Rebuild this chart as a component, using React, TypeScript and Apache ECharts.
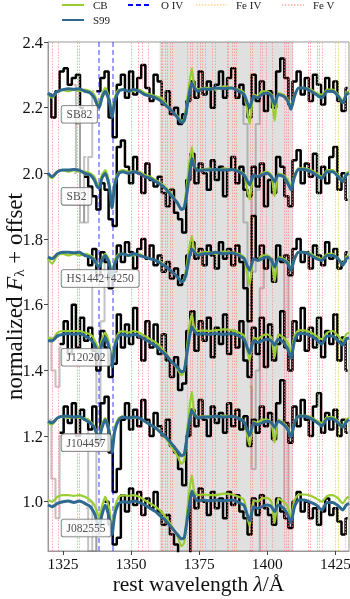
import React, { useEffect, useRef } from 'react';
import * as echarts from 'echarts';

// ---------- DATA ----------
const NAMES = ['SB82', 'SB2', 'HS1442+4250', 'J120202', 'J104457', 'J082555'];
const OFFSETS = [1.25, 1.0, 0.75, 0.5, 0.25, 0.0];
const LABEL_Y = [2.18, 1.93, 1.68, 1.44, 1.18, 0.92];
const LABEL_X = 1324.3;

const X_TICKS = [1325, 1350, 1375, 1400, 1425];
const Y_TICKS = [1.0, 1.2, 1.4, 1.6, 1.8, 2.0, 2.2, 2.4];

const GRAY_BAND = [1360.5, 1409.5];
const O_IV = [1338.1, 1343.1];
const FE_IV = [1425.0, 1426.2, 1428.7];
const FE_V = [1321.1, 1323.1, 1330.3, 1331.0, 1350.0, 1352.5, 1354.2, 1356.4, 1360.9, 1361.5, 1362.5, 1363.3,
  1364.4, 1365.0, 1370.6, 1371.7, 1372.4, 1374.2, 1375.4, 1376.2, 1377.2, 1379.8, 1380.9, 1385.2, 1385.8,
  1387.0, 1388.0, 1388.5, 1393.8, 1394.4, 1397.4, 1398.1, 1399.5, 1401.7, 1406.4, 1406.9, 1407.8, 1409.1,
  1415.0, 1415.8, 1418.3, 1419.1, 1420.1];

// model wavelength grid
const MW = [1319.5, 1321, 1323, 1325, 1327, 1329, 1331, 1333, 1335, 1336.5, 1337.5, 1338.3, 1339.3, 1340.5,
  1342, 1343, 1344, 1345.5, 1347, 1349, 1351, 1353, 1355, 1357, 1359, 1361, 1363, 1365, 1367, 1368.5, 1369.5,
  1370.5, 1371.5, 1372.3, 1373.2, 1374.5, 1376.5, 1378.5, 1381, 1384, 1387, 1389.5, 1391.5, 1393.5, 1395,
  1396.5, 1398, 1400, 1401.5, 1402.7, 1404, 1406, 1407.5, 1408.7, 1410, 1411.5, 1413.5, 1416, 1418, 1420,
  1422, 1424, 1426, 1427.7, 1429, 1430];

// S99 models (normalized flux)
const S99_SB82 = [0.995, 0.985, 1.0, 1.005, 1.008, 1.006, 1.008, 1.0, 0.995, 0.98, 0.96, 0.95, 0.98, 1.0, 0.97, 0.92, 0.97, 1.0, 1.005, 1.0, 1.005, 1.0, 0.99, 0.985, 0.98, 0.97, 0.955, 0.94, 0.92, 0.905, 0.91, 0.95, 1.0, 1.025, 1.01, 1.0, 1.008, 1.005, 1.01, 1.008, 1.01, 1.0, 0.99, 0.95, 0.985, 0.98, 0.99, 0.995, 0.985, 0.96, 0.99, 0.985, 0.97, 0.945, 0.985, 1.01, 1.01, 1.0, 0.99, 0.98, 1.0, 1.0, 0.985, 0.965, 0.99, 0.995];
const S99_SB2 = [1.0, 0.99, 1.005, 1.01, 1.01, 1.012, 1.01, 1.0, 0.995, 0.98, 0.96, 0.955, 0.985, 1.0, 0.96, 0.895, 0.965, 1.0, 1.005, 1.0, 1.005, 1.0, 0.99, 0.985, 0.975, 0.965, 0.95, 0.93, 0.91, 0.89, 0.895, 0.94, 1.0, 1.045, 1.02, 1.008, 1.01, 1.01, 1.012, 1.01, 1.012, 1.005, 0.995, 0.965, 0.995, 0.99, 0.995, 1.0, 0.99, 0.975, 0.995, 0.99, 0.97, 0.95, 0.99, 1.012, 1.012, 1.005, 0.995, 0.985, 1.005, 1.005, 0.99, 0.975, 0.995, 1.0];
const S99_HS1442 = [0.995, 0.99, 1.005, 1.01, 1.01, 1.008, 1.01, 1.0, 0.995, 0.985, 0.97, 0.965, 0.985, 1.0, 0.975, 0.93, 0.975, 1.0, 1.005, 1.0, 1.005, 1.0, 0.995, 0.99, 0.985, 0.975, 0.965, 0.95, 0.935, 0.92, 0.925, 0.955, 1.0, 1.02, 1.01, 1.0, 1.005, 1.005, 1.01, 1.005, 1.008, 1.0, 0.99, 0.955, 0.99, 0.985, 0.99, 0.995, 0.985, 0.965, 0.99, 0.985, 0.975, 0.955, 0.99, 1.01, 1.01, 1.0, 0.99, 0.985, 1.0, 1.0, 0.99, 0.97, 0.99, 0.995];
const S99_J120202 = [0.99, 0.99, 1.005, 1.01, 1.012, 1.01, 1.012, 1.005, 0.995, 0.98, 0.96, 0.95, 0.98, 1.0, 0.965, 0.91, 0.97, 1.005, 1.01, 1.005, 1.01, 1.005, 0.995, 0.985, 0.975, 0.96, 0.945, 0.925, 0.91, 0.895, 0.9, 0.95, 1.005, 1.033, 1.02, 1.01, 1.012, 1.01, 1.012, 1.01, 1.012, 1.005, 0.995, 0.952, 0.99, 0.985, 0.99, 0.995, 0.99, 0.977, 0.995, 0.985, 0.965, 0.937, 0.99, 1.012, 1.012, 1.005, 0.995, 0.98, 1.005, 1.005, 0.99, 0.977, 0.995, 1.0];
const S99_J104457 = [0.995, 0.99, 1.005, 1.01, 1.01, 1.008, 1.01, 1.0, 0.99, 0.975, 0.955, 0.945, 0.975, 1.0, 0.96, 0.9, 0.965, 1.0, 1.008, 1.005, 1.008, 1.005, 0.995, 0.985, 0.975, 0.96, 0.945, 0.925, 0.905, 0.89, 0.895, 0.945, 1.0, 1.028, 1.015, 1.005, 1.008, 1.008, 1.01, 1.008, 1.01, 1.003, 0.993, 0.952, 0.99, 0.985, 0.99, 0.995, 0.99, 0.977, 0.995, 0.985, 0.97, 0.947, 0.99, 1.01, 1.01, 1.003, 0.993, 0.98, 1.003, 1.003, 0.99, 0.977, 0.993, 1.0];
const S99_J082555 = [0.99, 0.985, 0.995, 1.0, 1.002, 0.998, 1.002, 0.995, 0.985, 0.965, 0.94, 0.922, 0.96, 0.99, 0.95, 0.9, 0.96, 0.995, 1.0, 0.998, 1.002, 0.998, 0.99, 0.98, 0.97, 0.955, 0.94, 0.92, 0.9, 0.887, 0.89, 0.94, 0.995, 1.033, 1.015, 1.002, 1.005, 1.003, 1.005, 1.003, 1.005, 0.998, 0.988, 0.942, 0.985, 0.98, 0.985, 0.99, 0.985, 0.97, 0.99, 0.98, 0.96, 0.937, 0.985, 1.005, 1.005, 0.998, 0.99, 0.975, 0.998, 0.998, 0.988, 0.975, 0.99, 0.995];

// CB models (normalized flux)
const CB_SB82 = [0.99, 0.98, 1.0, 1.003, 1.0, 1.005, 1.0, 1.005, 1.0, 0.99, 0.97, 0.96, 0.99, 1.01, 0.98, 0.93, 0.98, 1.005, 1.005, 1.0, 1.0, 1.005, 0.995, 0.99, 0.985, 0.98, 0.96, 0.94, 0.925, 0.91, 0.915, 0.97, 1.03, 1.07, 1.015, 1.005, 1.01, 1.01, 1.005, 1.015, 1.01, 1.005, 0.995, 0.9, 0.99, 0.985, 1.0, 1.0, 0.99, 0.91, 0.995, 0.99, 0.975, 0.955, 0.99, 1.01, 1.01, 1.005, 0.995, 0.99, 1.005, 1.005, 0.99, 0.97, 0.995, 1.0];
const CB_SB2 = [0.995, 0.985, 1.005, 1.01, 1.005, 1.01, 1.005, 1.005, 1.0, 0.99, 0.97, 0.965, 0.995, 1.01, 0.97, 0.905, 0.975, 1.005, 1.01, 1.005, 1.005, 1.005, 0.995, 0.99, 0.98, 0.97, 0.955, 0.935, 0.91, 0.89, 0.9, 0.97, 1.04, 1.08, 1.025, 1.01, 1.012, 1.015, 1.01, 1.015, 1.012, 1.008, 0.998, 0.92, 0.995, 0.99, 1.0, 1.005, 0.995, 0.93, 1.0, 0.995, 0.98, 0.96, 0.995, 1.015, 1.015, 1.01, 1.0, 0.99, 1.01, 1.01, 0.995, 0.98, 1.0, 1.005];
const CB_HS1442 = [0.99, 0.975, 1.0, 1.005, 1.0, 1.005, 1.0, 1.005, 1.0, 0.99, 0.975, 0.97, 0.99, 1.005, 0.985, 0.94, 0.985, 1.005, 1.005, 1.0, 1.0, 1.005, 0.995, 0.99, 0.985, 0.98, 0.965, 0.95, 0.935, 0.92, 0.93, 0.975, 1.03, 1.06, 1.015, 1.005, 1.01, 1.01, 1.005, 1.012, 1.01, 1.005, 0.995, 0.91, 0.99, 0.985, 1.0, 1.0, 0.99, 0.92, 0.995, 0.99, 0.98, 0.96, 0.99, 1.01, 1.01, 1.005, 0.995, 0.99, 1.005, 1.005, 0.99, 0.975, 0.995, 1.0];
const CB_J120202 = [1.0, 0.995, 1.015, 1.02, 1.02, 1.02, 1.02, 1.015, 1.01, 0.995, 0.975, 0.965, 0.995, 1.015, 0.98, 0.925, 0.985, 1.015, 1.02, 1.015, 1.02, 1.015, 1.005, 0.995, 0.985, 0.97, 0.95, 0.925, 0.905, 0.885, 0.895, 0.97, 1.04, 1.07, 1.03, 1.02, 1.022, 1.02, 1.022, 1.025, 1.022, 1.015, 1.005, 0.93, 1.0, 0.995, 1.005, 1.01, 1.0, 0.94, 1.01, 1.0, 0.985, 0.955, 1.005, 1.022, 1.022, 1.015, 1.005, 0.995, 1.015, 1.02, 1.005, 0.99, 1.01, 1.015];
const CB_J104457 = [0.99, 0.985, 1.005, 1.008, 1.005, 1.008, 1.005, 1.005, 0.995, 0.98, 0.96, 0.955, 0.985, 1.005, 0.97, 0.91, 0.975, 1.005, 1.01, 1.005, 1.005, 1.005, 0.995, 0.985, 0.975, 0.96, 0.94, 0.915, 0.89, 0.865, 0.875, 0.96, 1.04, 1.085, 1.02, 1.008, 1.01, 1.01, 1.008, 1.012, 1.01, 1.005, 0.995, 0.92, 0.995, 0.99, 1.0, 1.0, 0.99, 0.93, 1.0, 0.99, 0.975, 0.955, 0.995, 1.012, 1.012, 1.008, 0.998, 0.99, 1.008, 1.008, 0.995, 0.98, 1.0, 1.005];
const CB_J082555 = [1.005, 1.0, 1.015, 1.02, 1.02, 1.018, 1.02, 1.015, 1.005, 0.99, 0.97, 0.952, 0.985, 1.015, 0.98, 0.91, 0.98, 1.015, 1.02, 1.018, 1.02, 1.015, 1.005, 0.995, 0.985, 0.97, 0.95, 0.925, 0.895, 0.865, 0.875, 0.965, 1.04, 1.08, 1.03, 1.02, 1.022, 1.02, 1.02, 1.025, 1.022, 1.015, 1.005, 0.925, 1.005, 1.0, 1.01, 1.012, 1.0, 0.935, 1.01, 1.0, 0.985, 0.955, 1.005, 1.022, 1.022, 1.018, 1.01, 1.0, 1.018, 1.02, 1.01, 0.995, 1.01, 1.015];

// observed (binned) wavelength grid
const DW = [1320, 1321.5, 1323, 1324.5, 1326, 1327.5, 1329, 1330.5, 1332, 1333.5, 1335, 1336.5, 1338, 1339.5,
  1341, 1342.5, 1344, 1345.5, 1347, 1348.5, 1350, 1351.5, 1353, 1354.5, 1356, 1357.5, 1359, 1360.5, 1362,
  1363.5, 1365, 1366.5, 1368, 1369.5, 1371, 1372.5, 1374, 1375.5, 1377, 1378.5, 1380, 1381.5, 1383, 1384.5,
  1386, 1387.5, 1389, 1390.5, 1392, 1393.5, 1395, 1396.5, 1398, 1399.5, 1401, 1402.5, 1404, 1405.5, 1407,
  1408.5, 1410, 1411.5, 1413, 1414.5, 1416, 1417.5, 1419, 1420.5, 1422, 1423.5, 1425, 1426.5, 1428, 1429.5];

// observed normalized flux (null = no coverage / masked)
const OBS_SB82 = [0.99, 0.92, 1.0, 1.06, 1.07, 1.02, 1.04, 1.05, 0.95, null, null, null, 1.0, 1.04, 1.06, 0.92, 0.86, 1.02, 1.05, 0.98, 1.06, 0.99, 1.04, 1.08, 1.01, 0.97, 1.05, 1.03, 0.96, 1.0, 0.93, 0.95, 0.9, 0.93, 0.97, 1.03, 0.98, 1.06, 0.99, 1.03, 0.95, 1.02, 1.06, 0.98, 1.04, 1.07, 0.98, 1.02, 0.96, 0.92, 1.05, 0.97, 1.03, 0.94, 1.0, 0.95, 1.06, 1.1, 1.04, 0.96, 1.03, 1.06, 0.99, 1.04, 0.97, 1.05, 1.02, 0.96, 1.04, 1.0, 1.03, 0.97, 0.94, 1.01];
const OBS_SB2 = [null, null, null, null, null, null, null, null, null, 0.99, 0.96, 0.93, 0.89, 0.97, 0.95, 0.86, 0.84, 1.08, 1.1, 1.02, 0.97, 1.05, 1.0, 0.94, 1.03, 0.98, 0.96, 0.99, 0.94, 0.9, 0.95, 0.88, 0.86, 0.82, 0.98, 1.06, 0.97, 1.03, 1.0, 0.95, 1.04, 0.98, 1.02, 0.93, 1.01, 1.05, 0.97, 1.02, 0.95, 0.93, 1.02, 0.96, 1.03, 0.9, 0.98, 0.94, 1.05, 1.02, 0.93, 0.9, 1.04, 1.07, 0.97, 1.03, 0.99, 1.06, 0.94, 1.02, 0.97, 1.05, 1.08, 0.95, 1.0, 0.92];
const OBS_HS1442 = [null, null, null, null, null, null, null, null, null, 1.0, 0.97, 1.02, 0.94, 1.01, 0.98, 0.9, 0.95, 1.03, 0.98, 1.04, 1.01, 0.96, 1.02, 1.05, 0.99, 1.03, 0.97, 1.0, 0.95, 0.98, 0.93, 0.96, 0.91, 0.94, 1.0, 1.04, 0.99, 1.02, 0.97, 1.03, 1.0, 0.96, 1.04, 0.99, 1.02, 0.97, 1.03, 0.98, 0.9, 0.8, 1.12, 0.99, 1.03, 0.96, 0.99, 0.92, 1.03, 0.98, 1.0, 0.94, 1.02, 1.05, 0.98, 1.01, 0.96, 1.03, 1.0, 0.97, 1.04, 0.99, 1.02, 0.96, 0.98, 1.01];
const OBS_J120202 = [null, null, null, 0.98, 1.05, 0.95, 1.1, 0.97, 1.06, 0.99, 1.03, 0.96, 0.9, 1.02, 0.97, 0.88, 0.92, 1.07, 0.97, 1.04, 0.98, 1.09, 1.0, 0.93, 1.05, 0.97, 1.04, 0.95, 1.01, 0.93, 0.88, 0.94, 0.84, 0.86, 1.02, 1.08, 0.96, 1.05, 0.99, 1.06, 0.94, 1.03, 0.98, 1.07, 0.95, 1.02, 0.97, 1.05, 0.93, 0.88, 1.03, 0.95, 1.06, 0.91, 1.04, 0.93, 0.98, 1.08, 0.97, 0.9, 1.05, 0.99, 1.09, 0.96, 1.03, 0.97, 1.06, 0.94, 1.02, 0.98, 1.07, 0.93, 1.0, 0.9];
const OBS_J104457 = [null, null, null, 0.96, 1.04, 0.99, 1.05, 0.95, 1.03, 1.0, 0.97, 1.04, 0.93, 1.05, 1.07, 0.9, 0.78, 0.85, 1.0, 1.05, 0.97, 1.03, 0.98, 1.06, 1.0, 0.95, 1.02, 0.98, 0.95, 1.0, 0.92, 0.9, 0.85, 0.8, 0.95, 1.03, 0.98, 1.06, 1.0, 0.95, 1.04, 0.99, 1.02, 0.96, 1.05, 0.98, 1.03, 0.97, 1.01, 0.92, 1.0, 0.96, 1.04, 0.98, 1.02, 0.94, 1.05, 1.12, 0.99, 0.93, 1.04, 0.98, 1.06, 1.0, 0.95, 1.04, 1.08, 0.96, 1.02, 0.97, 1.03, 0.95, 1.0, 0.96];
const OBS_J082555 = [null, null, null, null, null, null, null, null, null, null, null, null, null, null, 1.0, 0.93, 0.87, 0.89, 1.02, 0.97, 1.04, 0.99, 1.03, 0.96, 1.01, 0.98, 1.03, 0.97, 0.93, 0.96, 0.9, 0.87, 0.84, 0.8, 0.75, 1.02, 0.98, 1.04, 1.0, 0.96, 1.03, 0.98, 1.01, 0.95, 1.03, 0.99, 1.02, 0.97, 0.95, 0.9, 1.01, 0.96, 1.02, 0.98, 0.96, 0.93, 1.01, 0.97, 0.95, 0.92, 1.0, 1.03, 0.97, 1.0, 0.95, 0.98, 0.93, 0.97, 1.01, 0.96, 0.98, 0.94, 0.9, 0.95];

// masked (grey) data segments: [wavelength, normalized flux]; null separates segments
const MASK_SB82 = [[1329, 1.02], [1330.5, 0.9], [1332, 0.7], [1333.5, 0.6], [1335, 0.8], [1336.5, 1.0], null, [1390.5, 1.0], [1392, 0.9], [1393.5, 0.72], [1395, 0.62], [1396.5, 0.9], [1398, 1.02]];
const MASK_SB2 = [[1329, 1.0], [1330.5, 1.18], [1332, 0.85], [1333.5, 1.05], null, [1390.5, 0.98], [1392, 0.85], [1393.5, 0.6], [1395, 0.7], [1396.5, 0.95], [1398, 1.0]];
const MASK_HS1442 = [[1335, 0.95], [1336.5, 0.7], [1338, 0.55], [1339.5, 0.8], [1341, 1.0], null, [1392, 0.95], [1393.5, 0.7], [1395, 0.5], [1396.5, 0.65], [1398, 0.9], [1399.5, 1.0], null, [1405.5, 1.0], [1407, 0.75], [1408.5, 0.95]];
const MASK_J120202 = [[1320, 1.0], [1321.5, 0.9], [1323, 0.85], [1324.5, 0.97], null, [1393.5, 0.85], [1395, 0.6], [1396.5, 0.75], [1398, 1.0]];
const MASK_J104457 = [[1320, 1.0], [1321.5, 0.82], [1323, 0.7], [1324.5, 0.95], null, [1333.5, 1.0], [1335, 0.75], [1336.5, 0.6], [1338, 0.9], null, [1405.5, 1.0], [1407, 0.7], [1408.5, 0.95]];
const MASK_J082555 = [[1333.5, 0.98], [1335, 0.85], [1336.5, 0.8], [1338, 0.9], [1339.5, 0.97], null, [1393.5, 0.85], [1395, 0.7], [1396.5, 0.8], [1398, 0.97]];

const S99 = [S99_SB82, S99_SB2, S99_HS1442, S99_J120202, S99_J104457, S99_J082555];
const CB = [CB_SB82, CB_SB2, CB_HS1442, CB_J120202, CB_J104457, CB_J082555];
const OBS = [OBS_SB82, OBS_SB2, OBS_HS1442, OBS_J120202, OBS_J104457, OBS_J082555];
const MASK = [MASK_SB82, MASK_SB2, MASK_HS1442, MASK_J120202, MASK_J104457, MASK_J082555];

// ---------- STYLE ----------
const FONT = '"Liberation Serif", "DejaVu Serif", serif';
const C_CB = '#9acd32';
const C_S99 = '#2e6a90';
const C_OIV = '#0000ff';
const C_FEIV = '#ffc04d';
const C_FEV = '#fa8072';

export default function App() {
  const ref = useRef<HTMLDivElement>(null);
  useEffect(() => {
    const chart = echarts.init(ref.current as HTMLDivElement, null, { renderer: 'svg' });
    const series: any[] = [];
    series.push({
      type: 'line', data: [], silent: true, z: 1,
      markArea: { silent: true, itemStyle: { color: 'rgba(0,0,0,0.12)' }, data: [[{ xAxis: GRAY_BAND[0] }, { xAxis: GRAY_BAND[1] }]] },
    });
    const vlines = (vals: number[], color: string, type: any, width: number) => ({
      type: 'line', data: [], silent: true, z: 2,
      markLine: { silent: true, symbol: ['none', 'none'], label: { show: false },
        lineStyle: { color, type, width }, emphasis: { disabled: true },
        data: vals.map((v) => ({ xAxis: v })) },
    });
    series.push(vlines(FE_V, 'rgba(250,128,114,0.65)', [1.5, 1.5], 1));
    series.push(vlines(FE_IV, 'rgba(255,192,77,0.75)', [1.5, 1.5], 1));
    series.push(vlines(O_IV, 'rgba(0,0,255,0.5)', [5, 3], 1.5));

    for (let i = 0; i < NAMES.length; i++) {
      const off = OFFSETS[i];
      series.push({
        type: 'line', step: 'middle', showSymbol: false, silent: true, z: 3,
        lineStyle: { color: 'rgba(120,120,120,0.45)', width: 2 },
        data: MASK[i].map((p: any) => (p ? [p[0], p[1] + off] : [null, null])),
      });
      const obs = DW.map((w, k) => [w, OBS[i][k] == null ? null : (OBS[i][k] as number) + off]);
      series.push({
        type: 'line', step: 'middle', showSymbol: false, silent: true, z: 4,
        lineStyle: { color: '#000', width: 2.5 }, data: obs,
      });
      series.push({
        type: 'line', showSymbol: false, silent: true, z: 5, smooth: 0.2,
        lineStyle: { color: C_CB, width: 2.2 },
        data: MW.map((w, k) => [w, CB[i][k] + off]),
      });
      series.push({
        type: 'line', showSymbol: false, silent: true, z: 6, smooth: 0.2,
        lineStyle: { color: C_S99, width: 3 },
        data: MW.map((w, k) => [w, S99[i][k] + off]),
      });
      series.push({
        type: 'scatter', symbolSize: 1, silent: true, z: 10, itemStyle: { color: 'rgba(0,0,0,0)' },
        data: [{ value: [LABEL_X, LABEL_Y[i]], name: NAMES[i] }],
        label: { show: true, position: 'right', distance: 0, formatter: '{b}', fontFamily: FONT, fontSize: 11.5,
          color: '#222', backgroundColor: '#fff', borderColor: '#555', borderWidth: 0.8, borderRadius: 2,
          padding: [3, 5, 2, 5] },
      });
    }

    const legendLine = (x1: number, x2: number, y: number, color: string, dash: any, w: number) => ({
      type: 'line', silent: true, shape: { x1, y1: y, x2, y2: y },
      style: { stroke: color, lineWidth: w, lineDash: dash },
    });
    const legendText = (x: number, y: number, text: string) => ({
      type: 'text', silent: true, x, y,
      style: { text, fontFamily: FONT, fontSize: 11, fill: '#222', verticalAlign: 'middle' },
    });

    chart.setOption({
      animation: false,
      grid: { left: 48, right: 1, top: 42, bottom: 48, show: true, borderColor: '#999', borderWidth: 1,
        containLabel: false, outerBoundsMode: 'none' },
      xAxis: {
        type: 'value', min: 1319.5, max: 1430,
        name: 'rest wavelength {i|λ}/Å', nameLocation: 'middle', nameGap: 22, nameMoveOverlap: false,
        nameTextStyle: { fontFamily: FONT, fontSize: 21.5, color: '#111', rich: { i: { fontStyle: 'italic', fontFamily: FONT, fontSize: 21.5 } } },
        axisLine: { show: true, lineStyle: { color: '#999' } },
        axisTick: { show: true, customValues: X_TICKS, length: 4, lineStyle: { color: '#444' } },
        axisLabel: { customValues: X_TICKS, fontFamily: FONT, fontSize: 15.5, color: '#111', margin: 4,
          formatter: (v: number) => String(v) },
        splitLine: { show: false },
      },
      yAxis: {
        type: 'value', min: 0.85, max: 2.4,
        name: 'normalized {i|F}{s|λ} + offset', nameLocation: 'middle', nameGap: 22, nameMoveOverlap: false,
        nameTextStyle: { fontFamily: FONT, fontSize: 23, color: '#111', lineHeight: 24,
          rich: { i: { fontStyle: 'italic', fontFamily: FONT, fontSize: 23, lineHeight: 24 },
            s: { fontFamily: FONT, fontSize: 15, verticalAlign: 'bottom', lineHeight: 15 } } },
        axisLine: { show: true, lineStyle: { color: '#999' } },
        axisTick: { show: true, customValues: Y_TICKS, length: 4, lineStyle: { color: '#444' } },
        axisLabel: { customValues: Y_TICKS, fontFamily: FONT, fontSize: 16.5, color: '#111', margin: 5,
          formatter: (v: number) => v.toFixed(1) },
        splitLine: { show: false },
      },
      graphic: [
        legendLine(62, 84, 5, C_CB, null, 2),
        legendText(93, 5, 'CB'),
        legendLine(62, 84, 20, C_S99, null, 2),
        legendText(93, 20, 'S99'),
        legendLine(128, 152, 5, C_OIV, [5, 3], 1.8),
        legendText(161, 5, 'O IV'),
        legendLine(196, 227, 5, C_FEIV, [1.5, 1.5], 1),
        legendText(236, 5, 'Fe IV'),
        legendLine(282, 304, 5, C_FEV, [1.5, 1.5], 1),
        legendText(313, 5, 'Fe V'),
      ],
      series,
    });
    return () => chart.dispose();
  }, []);
  return <div ref={ref} style={{ position: 'fixed', left: 0, top: 0, width: 350, height: 599 }} />;
}
